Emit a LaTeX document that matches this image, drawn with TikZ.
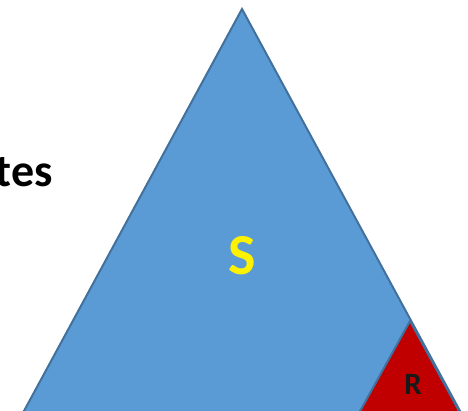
\documentclass[tikz,border=0pt]{standalone}
\usepackage{fontspec}
\setmainfont{Carlito}
\definecolor{sblue}{HTML}{5B9BD5}
\definecolor{sedge}{HTML}{41719C}
\definecolor{rred}{HTML}{C00000}
\begin{document}
\begin{tikzpicture}[x=1pt,y=-1pt,
  tri/.style={draw=sedge,line width=2pt,line join=miter},
  lbl/.style={font=\bfseries,inner sep=0pt}]
\useasboundingbox (0,0) rectangle (468,410);
\fill[white] (0,0) rectangle (468,410);
\clip (0,0) rectangle (468,410);
\coordinate (ba) at (242,9);
\coordinate (bl) at (18,422);
\coordinate (br) at (466,422);
\coordinate (ra) at (410,321);
\coordinate (rl) at (354,422);
\coordinate (rr) at (465,422);
\draw[tri,fill=sblue] (ba) -- (bl) -- (br) -- cycle;
\draw[tri,fill=rred] (ra) -- (rl) -- (rr) -- cycle;
\node[lbl,anchor=base east,font=\bfseries\fontsize{46}{50}\selectfont] (t) at (53,186) {tes};
\node[lbl,text=yellow,font=\bfseries\fontsize{58}{60}\selectfont] (s) at (242,256) {S};
\node[lbl,text=black!90,font=\bfseries\fontsize{31}{34}\selectfont] (r) at (413,384) {R};
\end{tikzpicture}
\end{document}
